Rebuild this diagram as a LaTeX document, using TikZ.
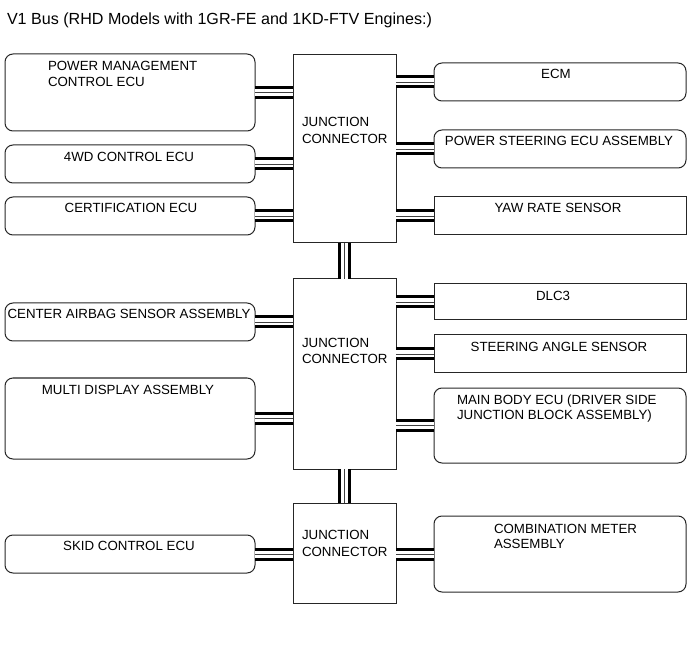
\documentclass[tikz,border=0pt]{standalone}
\usepackage{fontspec}
\setmainfont{Liberation Sans}
\begin{document}
\begin{tikzpicture}[x=1pt,y=-1pt,
  box/.style={draw=black!85, line width=1pt, anchor=north west, inner sep=0pt, outer sep=0pt},
  rbox/.style={box, rounded corners=8pt},
  jbox/.style={box},
  lbl/.style={inner sep=0pt, outer sep=0pt, font=\fontsize{13.3}{15.5}\selectfont},
  jlbl/.style={inner sep=0pt, outer sep=0pt, anchor=base west, align=left, font=\fontsize{13.3}{16.5}\selectfont},
  bus/.style={line width=13pt, black, postaction={draw, white, line width=7pt}, postaction={draw, black!75, line width=0.9pt}}
]
\useasboundingbox (0,0) rectangle (691,660);
% title
\node[lbl, anchor=base west, font=\fontsize{16.1}{19}\selectfont] (title) at (7,25) {V1 Bus (RHD Models with 1GR-FE and 1KD-FTV Engines:)};

% left boxes
\node[rbox, minimum width=250pt, minimum height=77pt] (pm) at (5,54) {};
\node[rbox, minimum width=250pt, minimum height=38pt] (wd) at (5,145) {};
\node[rbox, minimum width=250pt, minimum height=38pt] (cert) at (5,197) {};
\node[rbox, minimum width=250pt, minimum height=38pt] (air) at (5,303) {};
\node[rbox, minimum width=250pt, minimum height=81pt] (md) at (5,378) {};
\node[rbox, minimum width=250pt, minimum height=38pt] (skid) at (5,535) {};

% junctions
\node[jbox, minimum width=103pt, minimum height=188pt] (j1) at (293,55) {};
\node[jbox, minimum width=103pt, minimum height=190pt] (j2) at (293,279) {};
\node[jbox, minimum width=103pt, minimum height=100pt] (j3) at (293,503) {};

% right boxes
\node[rbox, minimum width=252pt, minimum height=38pt] (ecm) at (434,63) {};
\node[rbox, minimum width=252pt, minimum height=38pt] (ps) at (434,130) {};
\node[box, minimum width=252pt, minimum height=38pt] (yaw) at (434,197) {};
\node[box, minimum width=252pt, minimum height=36pt] (dlc) at (434,284) {};
\node[box, minimum width=252pt, minimum height=38pt] (sas) at (434,335) {};
\node[rbox, minimum width=252pt, minimum height=75pt] (mb) at (434,388) {};
\node[rbox, minimum width=252pt, minimum height=76pt] (cm) at (434,516) {};

% labels (multi-line: base anchor = last line baseline)
\node[lbl, anchor=base west, align=left, font=\fontsize{13.3}{16}\selectfont] (tpm) at (48,87) {POWER MANAGEMENT\\CONTROL ECU};
\node[lbl, anchor=base] (twd) at (129,162) {4WD CONTROL ECU};
\node[lbl, anchor=base] (tcert) at (131,213) {CERTIFICATION ECU};
\node[lbl, anchor=base] (tair) at (129,319) {CENTER AIRBAG SENSOR ASSEMBLY};
\node[lbl, anchor=base] (tmd) at (128,395) {MULTI DISPLAY ASSEMBLY};
\node[lbl, anchor=base] (tskid) at (129,550) {SKID CONTROL ECU};

\node[jlbl] (tj1) at (302,143.5) {JUNCTION\\CONNECTOR};
\node[jlbl] (tj2) at (302,363.5) {JUNCTION\\CONNECTOR};
\node[jlbl] (tj3) at (302,556) {JUNCTION\\CONNECTOR};

\node[lbl, anchor=base] (tecm) at (556,79) {ECM};
\node[lbl, anchor=base] (tps) at (559,146) {POWER STEERING ECU ASSEMBLY};
\node[lbl, anchor=base] (tyaw) at (558,213) {YAW RATE SENSOR};
\node[lbl, anchor=base] (tdlc) at (553,301) {DLC3};
\node[lbl, anchor=base] (tsas) at (559,352) {STEERING ANGLE SENSOR};
\node[lbl, anchor=base west, align=left, font=\fontsize{13.3}{15}\selectfont] (tmb) at (457,419) {MAIN BODY ECU (DRIVER SIDE\\JUNCTION BLOCK ASSEMBLY)};
\node[lbl, anchor=base west, align=left, font=\fontsize{13.3}{15}\selectfont] (tcm) at (494,548) {COMBINATION METER\\ASSEMBLY};

% buses
\draw[bus] (pm.east) -- (j1.west |- pm.east);
\draw[bus] (wd.east) -- (j1.west |- wd.east);
\draw[bus] (cert.east) -- (j1.west |- cert.east);
\draw[bus] (air.east) -- (j2.west |- air.east);
\draw[bus] (md.east) -- (j2.west |- md.east);
\draw[bus] (skid.east) -- (j3.west |- skid.east);
\draw[bus] (j1.east |- ecm.west) -- (ecm.west);
\draw[bus] (j1.east |- ps.west) -- (ps.west);
\draw[bus] (j1.east |- yaw.west) -- (yaw.west);
\draw[bus] (j2.east |- dlc.west) -- (dlc.west);
\draw[bus] (j2.east |- sas.west) -- (sas.west);
\draw[bus] (j2.east |- mb.west) -- (mb.west);
\draw[bus] (j3.east |- cm.west) -- (cm.west);
\draw[bus] (j1.south) -- (j2.north);
\draw[bus] (j2.south) -- (j3.north);
\end{tikzpicture}
\end{document}
